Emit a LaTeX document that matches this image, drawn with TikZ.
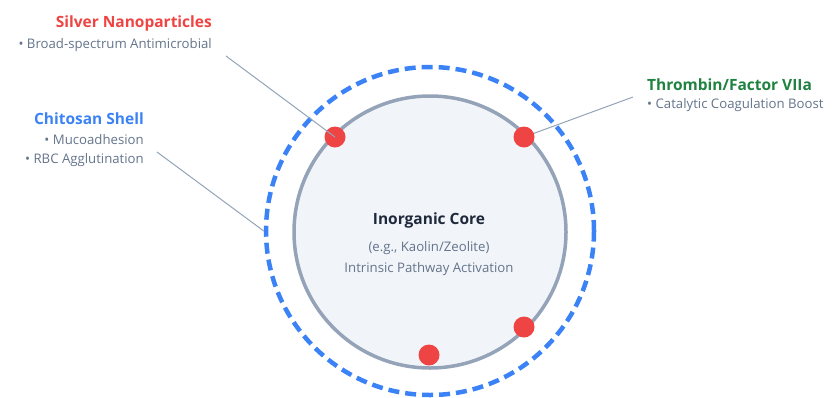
\documentclass[tikz,border=0pt]{standalone}
\usepackage{fontspec}
\setmainfont{Open Sans}
\usepackage{xcolor}
\usetikzlibrary{positioning,calc}

\definecolor{silverred}{HTML}{EF4444}
\definecolor{shellblue}{HTML}{3B82F6}
\definecolor{enzymegreen}{HTML}{1F8240}
\definecolor{coreline}{HTML}{94A3B8}
\definecolor{corefill}{HTML}{F1F5F9}
\definecolor{inkdark}{HTML}{1E293B}
\definecolor{notegray}{HTML}{64748B}

\begin{document}
\begin{tikzpicture}[x=1pt, y=-1pt,
    corecircle/.style={circle, draw=coreline, fill=corefill, line width=3.5pt, minimum size=272pt, inner sep=0pt},
    shellring/.style={circle, draw=shellblue, dash pattern=on 11pt off 6pt, line width=4.5pt, minimum size=328pt, inner sep=0pt},
    particle/.style={circle, fill=silverred, minimum size=21pt, inner sep=0pt},
    leader/.style={draw=coreline, line width=1pt},
    labeltitle/.style={font=\bfseries\fontsize{15.5}{18}\selectfont, inner sep=0pt},
    note/.style={text=notegray, font=\fontsize{13.2}{16}\selectfont, inner sep=0pt}
]
\useasboundingbox (0,0) rectangle (837,397);

% particle layers
\node[shellring] (shell) at (430,231) {};
\node[corecircle] (core) at (430,232) {};

\node[labeltitle, text=inkdark] (corename) at (429,220) {Inorganic Core};
\node[note] (coreex) at (429,248) {(e.g., Kaolin/Zeolite)};
\node[note] (corerole) at (429,269) {Intrinsic Pathway Activation};

% silver nanoparticles on the core surface
\node[particle] (ag1) at (335,137) {};
\node[particle] (ag2) at (524,137) {};
\node[particle] (ag3) at (524,327) {};
\node[particle] (ag4) at (429,355) {};

% labels
\node[labeltitle, text=silverred, anchor=east] (silver) at (212,23) {Silver Nanoparticles};
\node[note, anchor=east] (silvernote) at (212,45) {• Broad-spectrum Antimicrobial};

\node[labeltitle, text=shellblue, anchor=east] (chitosan) at (144,119) {Chitosan Shell};
\node[note, anchor=east] (chitonote1) at (144,140) {• Mucoadhesion};
\node[note, anchor=east] (chitonote2) at (144,160) {• RBC Agglutination};

\node[labeltitle, text=enzymegreen, anchor=west] (thrombin) at (647,85) {Thrombin/Factor VIIa};
\node[note, anchor=west] (thrombinnote) at (647,105) {• Catalytic Coagulation Boost};

% leader lines
\coordinate (silverend) at (226,56);
\coordinate (chitoend) at (157,152);
\coordinate (thrombinend) at (633,97);

\draw[leader] (silverend) -- (ag1.center);
\draw[leader] (chitoend) -- (shell.west);
\draw[leader] (thrombinend) -- (ag2);

\end{tikzpicture}
\end{document}
